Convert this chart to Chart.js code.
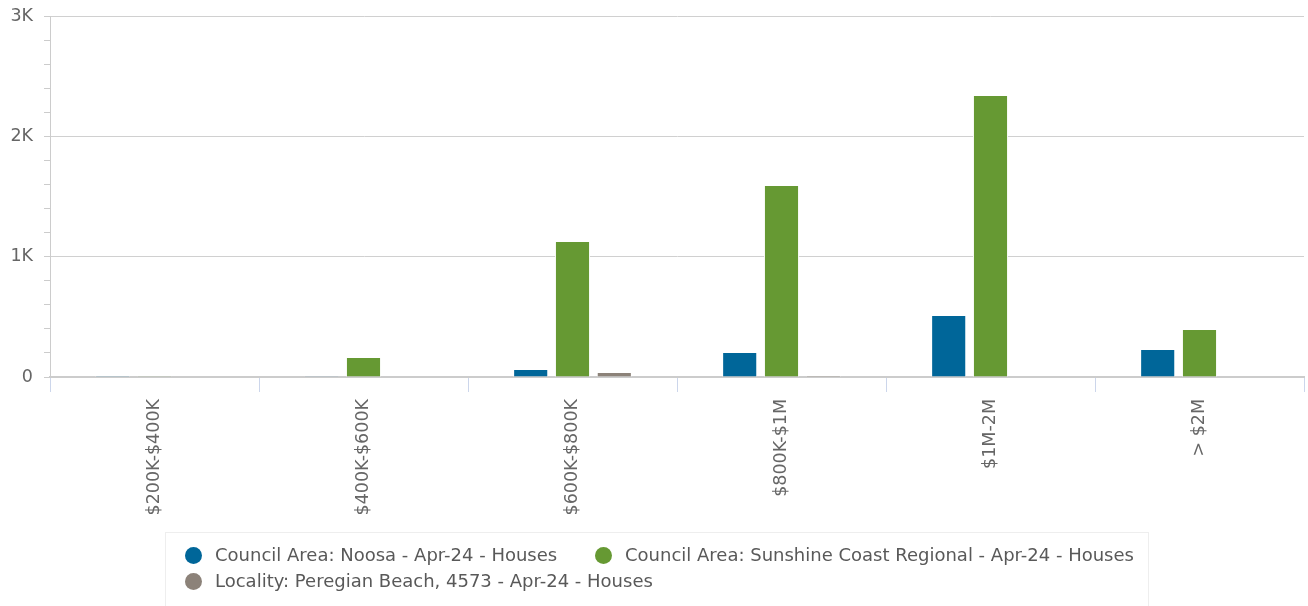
<!DOCTYPE html>
<html>
<head>
<meta charset="utf-8">
<script src="https://cdn.jsdelivr.net/npm/chart.js@4/dist/chart.umd.min.js"></script>
<style>
  html, body { margin: 0; padding: 0; background: #fff; }
  #wrap { position: relative; width: 1308px; height: 606px; overflow: hidden; }
  #c { position: absolute; left: 0; top: 0; }
  #legend { position: absolute; left: 165px; top: 532px; width: 984px; height: 80px; border: 1px solid #eeeeee; box-sizing: border-box;
    font-family: "DejaVu Sans", sans-serif; font-size: 18px; color: #595959; }
  .item { position: absolute; white-space: nowrap; line-height: 20px; }
  .dot { position: absolute; left: 0; top: 2px; width: 17px; height: 17px; border-radius: 50%; }
  .lbl { position: absolute; left: 30px; top: 0; }
</style>
</head>
<body>
<div id="wrap">
  <canvas id="c" width="1308" height="606"></canvas>
  <div id="legend"></div>
</div>
<script>
const categories = ["$200K-$400K", "$400K-$600K", "$600K-$800K", "$800K-$1M", "$1M-2M", "> $2M"];
const seriesNames = [
  "Council Area: Noosa - Apr-24 - Houses",
  "Council Area: Sunshine Coast Regional - Apr-24 - Houses",
  "Locality: Peregian Beach, 4573 - Apr-24 - Houses"
];
const noosa = [1, 2, 66, 208, 515, 233];
const sunshineCoast = [2, 166, 1130, 1596, 2344, 399];
const peregian = [0, 0, 42, 12, 0, 0];
const colors = ["#006699", "#669933", "#8c8279"];
const yTicks = [0, 1000, 2000, 3000];

const seriesValues = [noosa, sunshineCoast, peregian];

const ctx = document.getElementById('c');
new Chart(ctx, {
  type: 'bar',
  data: {
    labels: categories,
    datasets: seriesValues.map((vals, i) => ({
      label: seriesNames[i],
      data: vals,
      backgroundColor: colors[i],
      borderColor: '#ffffff',
      borderWidth: 1,
      categoryPercentage: 0.6,
      barPercentage: 0.84
    }))
  },
  options: {
    responsive: false,
    animation: false,
    devicePixelRatio: 1,
    layout: { padding: { top: 16, right: 4, left: 0, bottom: 0 } },
    plugins: { legend: { display: false }, tooltip: { enabled: false } },
    scales: {
      x: {
        afterFit: (s) => { s.height = 229; },
        grid: {
          offset: true,
          drawOnChartArea: false,
          drawTicks: true,
          tickLength: 15,
          tickColor: '#ccd6eb',
          color: '#ccd6eb'
        },
        border: { display: true, color: '#cccccc', width: 2 },
        ticks: {
          autoSkip: false,
          minRotation: 90,
          maxRotation: 90,
          padding: 7,
          color: '#666666',
          font: { family: '"DejaVu Sans", sans-serif', size: 17.5 }
        }
      },
      y: {
        min: 0,
        max: 3000,
        afterFit: (s) => { s.width = 50; s.paddingTop = 0; s.paddingBottom = 0; },
        border: { display: true, color: '#cccccc', width: 1 },
        grid: {
          drawTicks: true,
          tickLength: 6,
          color: (c) => (c.tick && yTicks.includes(c.tick.value)) ? '#d0d0d0' : 'rgba(0,0,0,0)',
          tickColor: '#cccccc'
        },
        ticks: {
          stepSize: 200,
          autoSkip: false,
          padding: 11,
          color: '#666666',
          font: { family: '"DejaVu Sans", sans-serif', size: 17.5 },
          callback: (v) => yTicks.includes(v) ? (v === 0 ? '0' : (v / 1000) + 'K') : ''
        }
      }
    }
  }
});

// HTML legend built from the series arrays
const legend = document.getElementById('legend');
const positions = [[19, 12], [429, 12], [19, 38]];
seriesNames.forEach((name, i) => {
  const it = document.createElement('div');
  it.className = 'item';
  it.style.left = positions[i][0] + 'px';
  it.style.top = positions[i][1] + 'px';
  const d = document.createElement('span');
  d.className = 'dot';
  d.style.background = colors[i];
  const t = document.createElement('span');
  t.className = 'lbl';
  t.textContent = name;
  it.appendChild(d); it.appendChild(t);
  legend.appendChild(it);
});
</script>
</body>
</html>
